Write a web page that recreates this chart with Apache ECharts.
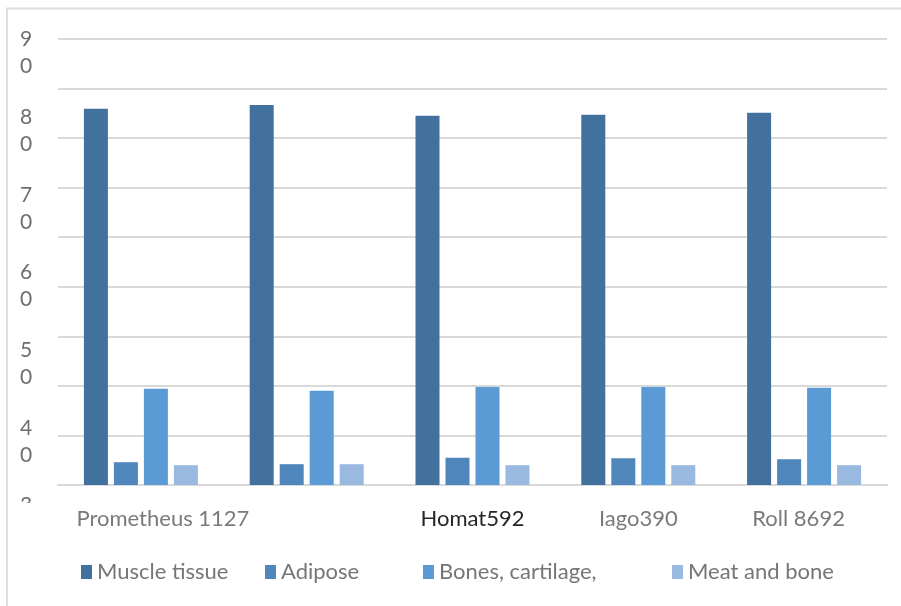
<!DOCTYPE html>
<html>
<head>
<meta charset="utf-8">
<script src="https://cdn.jsdelivr.net/npm/echarts@6/dist/echarts.min.js"></script>
<style>
  html, body { margin: 0; padding: 0; background: #fff; }
  #chart { width: 901px; height: 606px; }
</style>
</head>
<body>
<div id="chart"></div>
<script>
// data
var categories = ["Prometheus 1127", "", "Homat592", "Iago390", "Roll 8692"];
var seriesNames = ["Muscle tissue", "Adipose", "Bones, cartilage,", "Meat and bone"];
var muscle = [75.9, 76.7, 74.5, 74.7, 75.1];
var adipose = [4.6, 4.2, 5.5, 5.4, 5.2];
var bones = [19.4, 19.0, 19.8, 19.8, 19.6];
var meatBone = [4.0, 4.2, 4.0, 4.0, 4.0];
// the broken tick labels on the left (90 .. 30)
var tickLabels = [30, 40, 50, 60, 70, 80, 90];

var colors = ["#41719c", "#4f86bb", "#5b9bd5", "#99b9e0"];
var font = "Lato, 'Open Sans', sans-serif";

var chart = echarts.init(document.getElementById("chart"));

var legendLefts = [81, 265, 423, 672];
var legends = seriesNames.map(function (n, i) {
  return {
    data: [n],
    left: legendLefts[i],
    top: 561,
    padding: 0,
    itemWidth: 11,
    itemHeight: 14,
    itemGap: 5,
    icon: "rect",
    selectedMode: false,
    textStyle: { fontFamily: font, fontSize: 22, color: "#767676" }
  };
});

var allData = [muscle, adipose, bones, meatBone];

var option = {
  backgroundColor: "#fff",
  animation: false,
  color: colors,
  legend: legends,
  grid: [
    { left: 58, right: 14, top: 39, bottom: 121 },
    // second grid only carries the odd left labels
    { left: 58, right: 14, top: 53, bottom: 87 }
  ],
  graphic: [
    {
      type: "rect",
      z: 0,
      silent: true,
      shape: { x: 7, y: 8.5, width: 1000, height: 700 },
      style: { fill: "none", stroke: "#dedede", lineWidth: 2 }
    },
    {
      // the "3 0" label is cut off below
      type: "rect",
      z: 100,
      silent: true,
      shape: { x: 12, y: 503, width: 42, height: 40 },
      style: { fill: "#fff" }
    }
  ],
  xAxis: [
    {
      type: "category",
      gridIndex: 0,
      data: categories,
      axisTick: { show: false },
      axisLine: { lineStyle: { color: "#d9d9d9", width: 2 } },
      axisLabel: {
        interval: 0,
        margin: 23,
        fontFamily: font,
        fontSize: 22,
        color: "#7a7a7a",
        formatter: function (v, i) {
          if (i === 0) return "{a|" + v + "}";
          if (i === 2) return "{b|" + v + "}";
          if (i === 4) return "{c|" + v + "}";
          return v;
        },
        rich: {
          a: { fontFamily: font, fontSize: 22, color: "#7a7a7a", padding: [0, 0, 0, 44] },
          b: { fontFamily: font, fontSize: 22, color: "#262626" },
          c: { fontFamily: font, fontSize: 22, color: "#7a7a7a", padding: [0, 11, 0, 0] }
        }
      }
    },
    {
      type: "category",
      gridIndex: 1,
      data: categories,
      show: false
    }
  ],
  yAxis: [
    {
      type: "value",
      gridIndex: 0,
      min: 0,
      max: 90,
      interval: 10,
      axisLabel: { show: false },
      axisLine: { show: false },
      axisTick: { show: false },
      splitLine: { lineStyle: { color: "#d9d9d9", width: 2 } }
    },
    {
      type: "value",
      gridIndex: 1,
      min: tickLabels[0],
      max: tickLabels[tickLabels.length - 1],
      interval: 10,
      axisLine: { show: false },
      axisTick: { show: false },
      splitLine: { show: false },
      axisLabel: {
        margin: 38,
        align: "left",
        fontFamily: font,
        fontSize: 21,
        lineHeight: 27,
        color: "#6e6e6e",
        formatter: function (v) {
          return String(v).split("").join("\n");
        }
      }
    }
  ],
  series: seriesNames.map(function (n, i) {
    return {
      name: n,
      type: "bar",
      xAxisIndex: 0,
      yAxisIndex: 0,
      barWidth: 24,
      barGap: "25%",
      itemStyle: { color: colors[i] },
      data: allData[i]
    };
  })
};

chart.setOption(option);
</script>
</body>
</html>
